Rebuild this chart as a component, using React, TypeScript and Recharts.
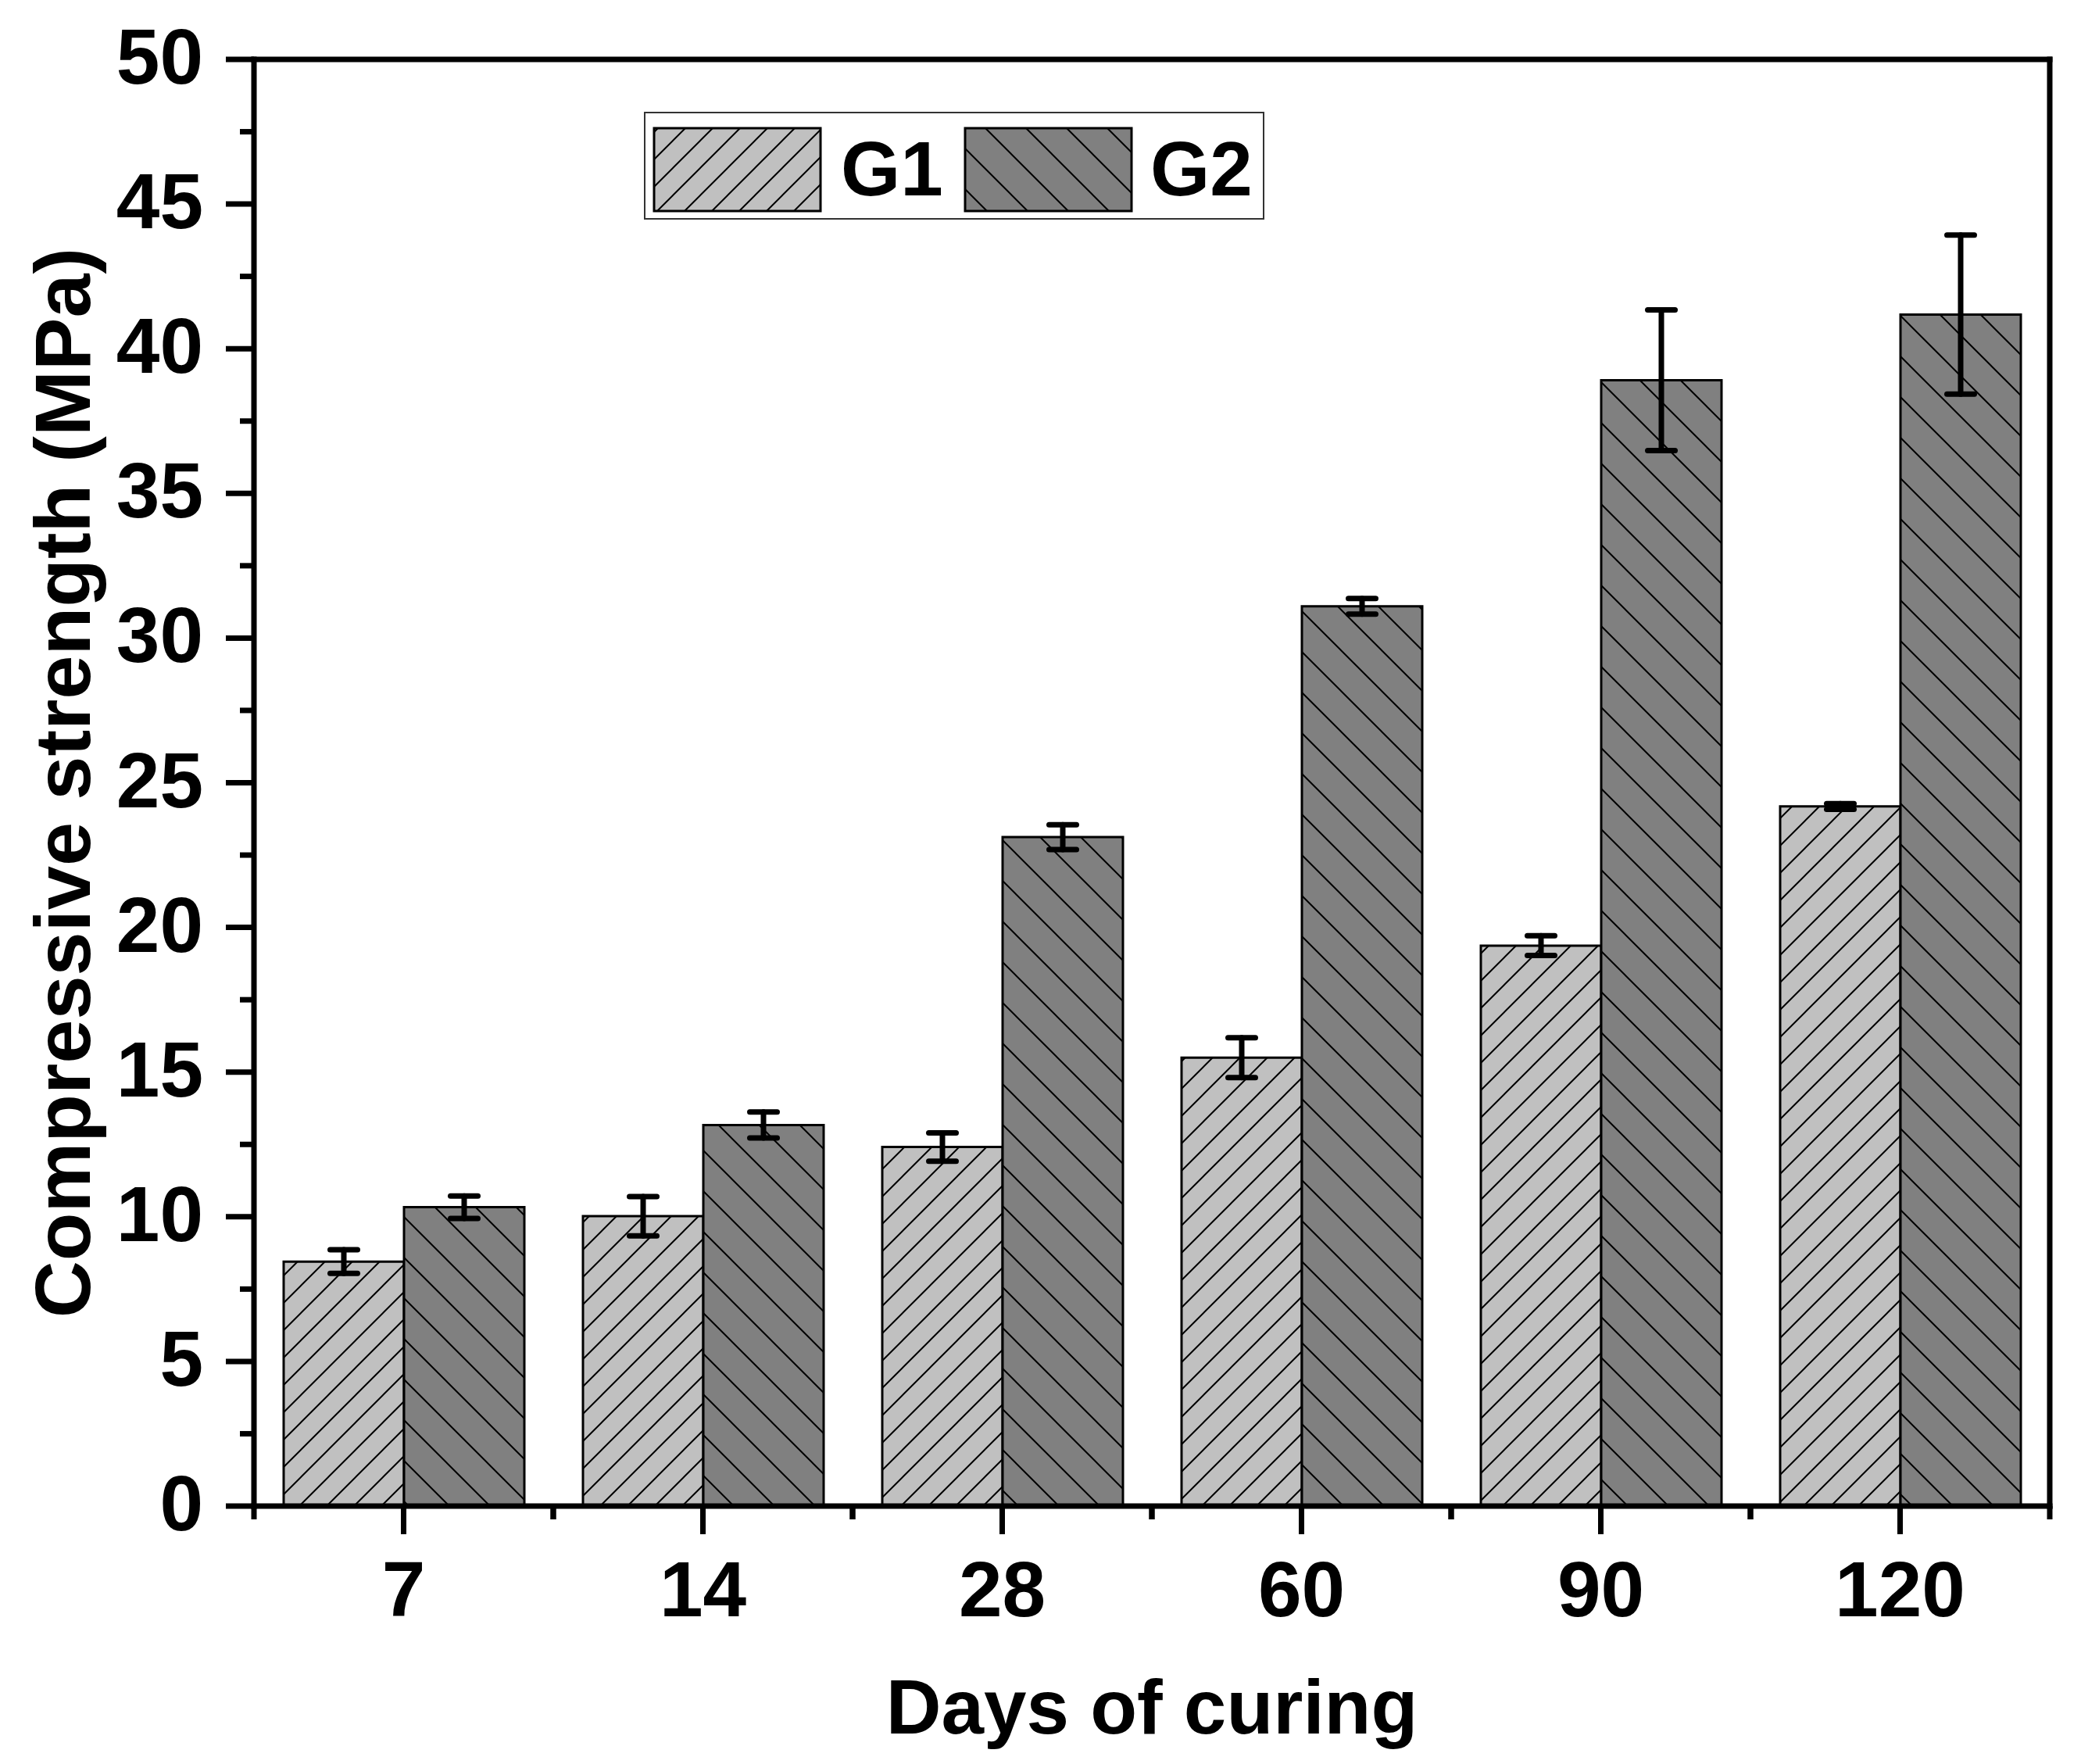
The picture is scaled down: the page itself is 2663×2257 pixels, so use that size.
import { BarChart, Bar, XAxis, YAxis, ErrorBar, Legend } from "recharts"

// values (MPa)
const days = ["7", "14", "28", "60", "90", "120"]
const g1 = [8.45, 10.02, 12.41, 15.5, 19.37, 24.18]
const g1Err = [0.41, 0.68, 0.49, 0.69, 0.34, 0.1]
const g2 = [10.33, 13.17, 23.12, 31.1, 38.91, 41.18]
const g2Err = [0.39, 0.45, 0.43, 0.27, 2.43, 2.75]
const seriesNames = ["G1", "G2"]
const yTicks = [0, 2.5, 5, 7.5, 10, 12.5, 15, 17.5, 20, 22.5, 25, 27.5, 30, 32.5, 35, 37.5, 40, 42.5, 45, 47.5, 50]

const data = days.map((d, i) => ({
  day: d,
  g1: g1[i],
  g1Err: g1Err[i],
  g2: g2[i],
  g2Err: g2Err[i],
}))

const W = 2663
const H = 2257
const LEFT_W = 325
const RIGHT_W = 40
const TOP_H = 76
const BOTTOM_H = 330
const HALF_BAND = (W - LEFT_W - RIGHT_W) / days.length / 2

const FONT = "'Liberation Sans', Arial, sans-serif"
const G1_FILL = "#C0C0C0"
const G2_FILL = "#808080"
const AXIS = { stroke: "#000", strokeWidth: 7, strokeLinecap: "square" as const }

const Hatches = ({ p }: { p: string }) => (
  <defs>
    <pattern id={`${p}g1`} patternUnits="userSpaceOnUse" width={35} height={35}>
      <rect width={35} height={35} fill={G1_FILL} />
      <path d="M0,35 L35,0 M-8.75,8.75 L8.75,-8.75 M26.25,43.75 L43.75,26.25" stroke="#000" strokeWidth={2} />
    </pattern>
    <pattern id={`${p}g2`} patternUnits="userSpaceOnUse" width={52} height={52}>
      <rect width={52} height={52} fill={G2_FILL} />
      <path d="M0,0 L52,52 M-13,39 L13,65 M39,-13 L65,13" stroke="#000" strokeWidth={2} />
    </pattern>
  </defs>
)

const YTick = (props: any) => {
  const { x, y, payload } = props
  const major = payload.value % 5 === 0
  return (
    <g>
      <line x1={x} x2={x - (major ? 36 : 18)} y1={y} y2={y} stroke="#000" strokeWidth={7} />
      {major && (
        <text x={x - 65} y={y + 31} textAnchor="end" fontFamily={FONT} fontWeight="bold" fontSize={100} fill="#000">
          {payload.value}
        </text>
      )}
    </g>
  )
}

const XTick = (props: any) => {
  const { x, y, payload } = props
  return (
    <g>
      <line x1={x} x2={x} y1={y} y2={y + 36} stroke="#000" strokeWidth={7} />
      <line x1={x - HALF_BAND} x2={x - HALF_BAND} y1={y} y2={y + 17} stroke="#000" strokeWidth={7} />
      <line x1={x + HALF_BAND} x2={x + HALF_BAND} y1={y} y2={y + 17} stroke="#000" strokeWidth={7} />
      <text x={x} y={y + 141} textAnchor="middle" fontFamily={FONT} fontWeight="bold" fontSize={100} fill="#000">
        {payload.value}
      </text>
    </g>
  )
}

const XTitle = ({ viewBox }: any) => (
  <text
    x={viewBox.x + viewBox.width / 2}
    y={viewBox.y + 291}
    textAnchor="middle"
    fontFamily={FONT}
    fontWeight="bold"
    fontSize={98}
    fill="#000"
  >
    Days of curing
  </text>
)

const YTitle = ({ viewBox }: any) => {
  const cx = 115
  const cy = viewBox.y + viewBox.height / 2
  return (
    <text
      x={cx}
      y={cy}
      transform={`rotate(-90, ${cx}, ${cy})`}
      textAnchor="middle"
      fontFamily={FONT}
      fontWeight="bold"
      fontSize={101}
      fill="#000"
    >
      Compressive strength (MPa)
    </text>
  )
}

const LegendBox = () => (
  <div style={{ width: 790, height: 134, border: "2px solid #333", background: "#fff" }}>
    <svg width={790} height={134} style={{ display: "block" }}>
      <Hatches p="lg" />
      {seriesNames.map((name, i) => (
        <g key={name}>
          <rect
            x={11 + i * 398}
            y={19}
            width={213}
            height={106}
            fill={`url(#lg${i === 0 ? "g1" : "g2"})`}
            stroke="#000"
            strokeWidth={3}
          />
          <text x={250 + i * 396} y={105} fontFamily={FONT} fontWeight="bold" fontSize={98} fill="#000">
            {name}
          </text>
        </g>
      ))}
    </svg>
  </div>
)

export default function App() {
  return (
    <div style={{ position: "absolute", left: 0, top: 0, background: "#fff" }}>
      <BarChart width={W} height={H} data={data} margin={{ top: 0, right: 0, bottom: 0, left: 0 }} barSize={154} barGap={0}>
        <Hatches p="bar" />
        <XAxis
          dataKey="day"
          height={BOTTOM_H}
          axisLine={AXIS}
          tickLine={false}
          tickSize={0}
          tickMargin={0}
          interval={0}
          tick={<XTick />}
          label={<XTitle />}
        />
        <XAxis xAxisId="top" dataKey="day" orientation="top" height={TOP_H} axisLine={AXIS} tick={false} tickLine={false} />
        <YAxis
          type="number"
          domain={[0, 50]}
          ticks={yTicks}
          interval={0}
          width={LEFT_W}
          axisLine={AXIS}
          tickLine={false}
          tickSize={0}
          tickMargin={0}
          tick={<YTick />}
          label={<YTitle />}
        />
        <YAxis yAxisId="right" orientation="right" type="number" domain={[0, 50]} width={RIGHT_W} axisLine={AXIS} tick={false} tickLine={false} />
        <Legend
          layout="horizontal"
          verticalAlign="middle"
          align="center"
          content={<LegendBox />}
          wrapperStyle={{ left: 824, top: 143, width: 794, height: 138 }}
        />
        <Bar dataKey="g1" name={seriesNames[0]} fill="url(#barg1)" stroke="#000" strokeWidth={3} isAnimationActive={false}>
          <ErrorBar dataKey="g1Err" direction="y" width={17.5} stroke="#000" strokeWidth={7} strokeLinecap="round" isAnimationActive={false} />
        </Bar>
        <Bar dataKey="g2" name={seriesNames[1]} fill="url(#barg2)" stroke="#000" strokeWidth={3} isAnimationActive={false}>
          <ErrorBar dataKey="g2Err" direction="y" width={17.5} stroke="#000" strokeWidth={7} strokeLinecap="round" isAnimationActive={false} />
        </Bar>
      </BarChart>
    </div>
  )
}
